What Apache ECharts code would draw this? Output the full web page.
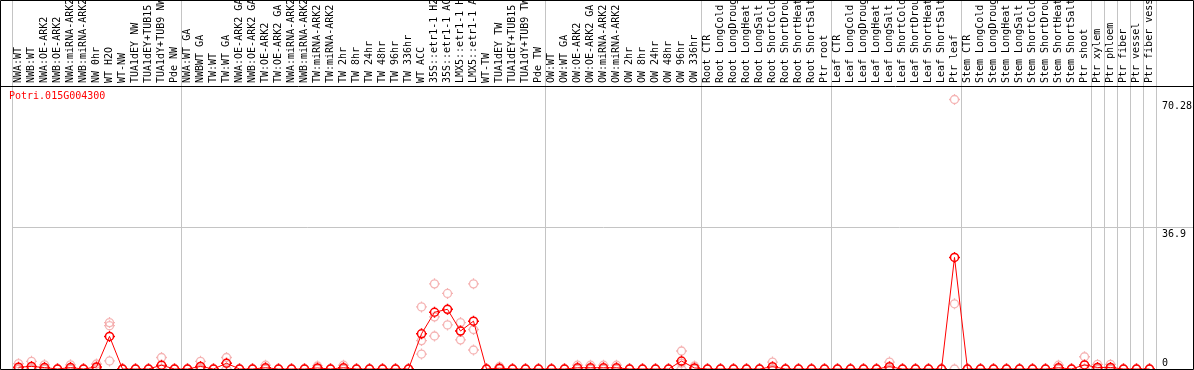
<!DOCTYPE html>
<html>
<head>
<meta charset="utf-8">
<script src="https://cdn.jsdelivr.net/npm/echarts@6/dist/echarts.min.js"></script>
<style>
html,body{margin:0;padding:0;background:#fff;}
#c{width:1194px;height:370px;}
</style>
</head>
<body>
<div id="c"></div>
<script>
const chartTitle = 'Potri.015G004300';

const categories = [
  'NWA:WT','NWB:WT','NWA:OE-ARK2','NWB:OE-ARK2','NWA:miRNA-ARK2','NWB:miRNA-ARK2','NW 0hr','WT H2O','WT-NW','TUA1dEY NW','TUA1dEY+TUB15 NW','TUA1dY+TUB9 NW','Pde NW',
  'NWA:WT GA','NWBWT GA','TW:WT','TW:WT GA','NWA:OE-ARK2 GA','NWB:OE-ARK2 GA','TW:OE-ARK2','TW:OE-ARK2 GA','NWA:miRNA-ARK2','NWB:miRNA-ARK2','TW:miRNA-ARK2','TW:miRNA-ARK2',
  'TW 2hr','TW 8hr','TW 24hr','TW 48hr','TW 96hr','TW 336hr','WT ACC','35S::etr1-1 H2O','35S::etr1-1 ACC','LMX5::etr1-1 H2O','LMX5::etr1-1 ACC','WT-TW','TUA1dEY TW','TUA1dEY+TUB15 TW','TUA1dY+TUB9 TW','Pde TW',
  'OW:WT','OW:WT GA','OW:OE-ARK2','OW:OE-ARK2 GA','OW:miRNA-ARK2','OW:miRNA-ARK2','OW 2hr','OW 8hr','OW 24hr','OW 48hr','OW 96hr','OW 336hr',
  'Root CTR','Root LongCold','Root LongDrought','Root LongHeat','Root LongSalt','Root ShortCold','Root ShortDrought','Root ShortHeat','Root ShortSalt','Ptr root',
  'Leaf CTR','Leaf LongCold','Leaf LongDrought','Leaf LongHeat','Leaf LongSalt','Leaf ShortCold','Leaf ShortDrought','Leaf ShortHeat','Leaf ShortSalt','Ptr leaf',
  'Stem CTR','Stem LongCold','Stem LongDrought','Stem LongHeat','Stem LongSalt','Stem ShortCold','Stem ShortDrought','Stem ShortHeat','Stem ShortSalt','Ptr shoot',
  'Ptr xylem','Ptr phloem','Ptr fiber','Ptr vessel','Ptr fiber vessel'
];

// category indices where a new sample group starts (grey separators)
const groupStarts = [0, 13, 41, 53, 63, 73, 83, 84, 85, 86, 87, 88];

const yTickValues = [0, 36.9, 70.28];
const yTickLabels = ['0', '36.9', '70.28'];
const yMax = 73.8;

// replicate values
const rep1 = [
  1.4,2.0,1.1,0,1.1,0,1.3,12.1,0,0,
  0,3.0,0,0,2.0,0,3.0,0,0,1.0,
  0,0,0,0.8,0,1.0,0,0,0,0,
  0,16.2,22.2,19.7,12.1,22.2,0,0.6,0,0,
  0,0,0,1.0,1.0,1.0,1.0,0,0,0,
  0,4.7,0.8,0,0,0,0,0,1.8,0,
  0,0,0,0,0,0,0,1.8,0,0,
  0,0,70.28,0,0,0,0,0,0,0,
  1.0,0,3.2,1.2,1.2,0,0,0
];
const rep2 = [
  0,0,0,0,0,0,0.3,11.3,0,0,
  0,0,0,0,0,0,1.5,0,0,0,
  0,0,0,0,0,0,0,0,0,0,
  0,7.4,13.6,15.5,10.0,10.3,0,0,0,0,
  0,0,0,0,0,0,0,0,0,0,
  0,1.5,0,0,0,0,0,0,0,0,
  0,0,0,0,0,0,0,0,0,0,
  0,0,17.0,0,0,0,0,0,0,0,
  0,0,0,0,0,0,0,0
];
const rep3 = [
  0,0,0,0,0,0,0,2.1,0,0,
  0,0,0,0,0,0,0,0,0,0,
  0,0,0,0,0,0,0,0,0,0,
  0,3.9,8.6,11.5,7.6,4.95,0,0,0,0,
  0,0,0,0,0,0,0,0,0,0,
  0,0,0,0,0,0,0,0,0,0,
  0,0,0,0,0,0,0,0,0,0,
  0,0,0,0,0,0,0,0,0,0,
  0,0,0,0,0,0,0,0
];
// mean values
const means = [
  0.47,0.67,0.37,0,0.37,0,0.53,8.5,0,0,
  0,1.0,0,0,0.67,0,1.5,0,0,0.33,
  0,0,0,0.27,0,0.33,0,0,0,0,
  0,9.17,14.8,15.57,9.9,12.48,0,0.2,0,0,
  0,0,0,0.33,0.33,0.33,0.33,0,0,0,
  0,2.07,0.27,0,0,0,0,0,0.6,0,
  0,0,0,0,0,0,0,0.6,0,0,
  0,0,29.09,0,0,0,0,0,0,0,
  0.33,0,1.07,0.4,0.4,0,0,0
];

const FONT = 'DejaVu Sans Mono';
const axisCats = categories.concat(['', '', '']);
const splitFn = function (idx) { return groupStarts.indexOf(idx) >= 0; };
// ring with four short ticks (circle drawn with cubic beziers)
const markerPath = 'path://M0,-4C2.209,-4,4,-2.209,4,0C4,2.209,2.209,4,0,4C-2.209,4,-4,2.209,-4,0C-4,-2.209,-2.209,-4,0,-4Z' +
  'M0,-5.5L0,-4M0,4L0,5.5M-5.5,0L-4,0M4,0L5.5,0';
const GREY = '#c4c4c4';

function repSeries(arr) {
  return {
    type: 'scatter', xAxisIndex: 1, yAxisIndex: 1, data: arr,
    symbol: markerPath, symbolSize: 11, z: 2, silent: true,
    itemStyle: { color: 'rgba(0,0,0,0)', borderColor: '#f2a0a0', borderWidth: 1.3 },
    emphasis: { disabled: true }
  };
}

const chart = echarts.init(document.getElementById('c'), null, { renderer: 'canvas' });
chart.setOption({
  animation: false,
  backgroundColor: '#ffffff',
  title: {
    text: chartTitle, left: 9, top: 91, padding: 0,
    textStyle: { color: '#ff0000', fontFamily: FONT, fontSize: 10, fontWeight: 'normal' }
  },
  grid: [
    { left: 12, top: 0, width: 1183, height: 86, outerBoundsMode: 'none', containLabel: false },
    { left: 12, top: 86, width: 1183, height: 283, outerBoundsMode: 'none', containLabel: false }
  ],
  xAxis: [
    {
      type: 'category', gridIndex: 0, data: axisCats, position: 'bottom', boundaryGap: true,
      axisLine: { show: false }, axisTick: { show: false },
      splitLine: { show: true, interval: splitFn, lineStyle: { color: GREY, width: 1 } },
      axisLabel: { inside: true, rotate: 90, interval: 0, margin: 3, color: '#000', fontFamily: FONT, fontSize: 10, hideOverlap: false }
    },
    {
      type: 'category', gridIndex: 1, data: axisCats, boundaryGap: true,
      axisLine: { show: false }, axisTick: { show: false }, axisLabel: { show: false },
      splitLine: { show: true, interval: splitFn, lineStyle: { color: GREY, width: 1 } }
    }
  ],
  yAxis: [
    { type: 'value', gridIndex: 0, show: false },
    {
      type: 'value', gridIndex: 1, min: 0, max: yMax, position: 'right',
      axisLine: { show: false }, axisTick: { show: false }, splitLine: { show: false },
      axisLabel: {
        inside: true, margin: 33, align: 'left', verticalAlign: 'middle',
        customValues: yTickValues,
        color: '#000', fontFamily: FONT, fontSize: 10,
        formatter: function (v) {
          let i = 0, best = Infinity;
          yTickValues.forEach(function (t, k) { if (Math.abs(t - v) < best) { best = Math.abs(t - v); i = k; } });
          return (i === 0 ? '{b|' : '{t|') + yTickLabels[i] + '}';
        },
        rich: {
          t: { padding: [13, 0, 0, 0], fontFamily: FONT, fontSize: 10, color: '#000' },
          b: { padding: [0, 0, 12, 0], fontFamily: FONT, fontSize: 10, color: '#000' }
        }
      }
    }
  ],
  series: [
    repSeries(rep1), repSeries(rep2), repSeries(rep3),
    {
      type: 'line', xAxisIndex: 1, yAxisIndex: 1, data: means, z: 3,
      symbol: markerPath, symbolSize: 11, showAllSymbol: true, clip: false, silent: true,
      itemStyle: { color: 'rgba(0,0,0,0)', borderColor: '#ff0000', borderWidth: 1.5 },
      lineStyle: { color: '#ff0000', width: 1 },
      emphasis: { disabled: true },
      markLine: {
        silent: true, symbol: 'none', label: { show: false },
        lineStyle: { color: GREY, type: 'solid', width: 1 },
        data: [{ yAxis: yTickValues[1] }]
      }
    }
  ],
  graphic: [
    { type: 'rect', silent: true, z: 100, shape: { x: 0.5, y: 0.5, width: 1193, height: 369 }, style: { fill: null, stroke: '#000', lineWidth: 1 } },
    { type: 'line', silent: true, z: 100, shape: { x1: 0, y1: 86.5, x2: 1194, y2: 86.5 }, style: { stroke: '#000', lineWidth: 1 } }
  ]
});
</script>
</body>
</html>
